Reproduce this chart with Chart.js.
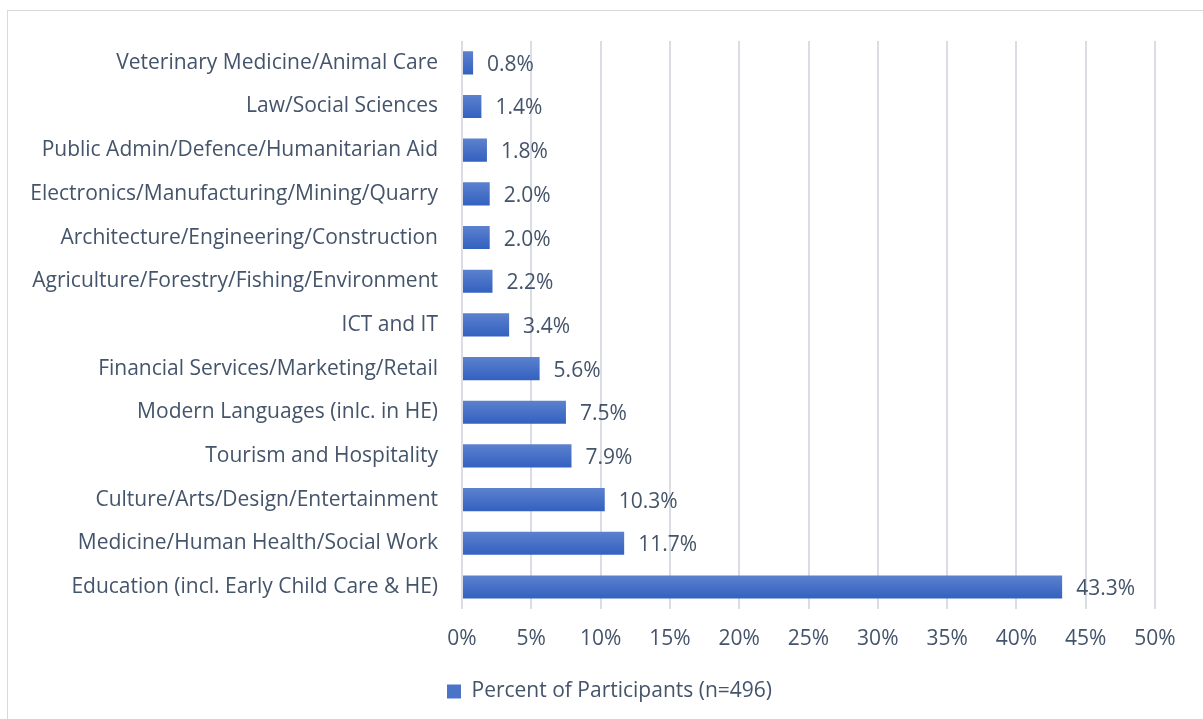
<!DOCTYPE html>
<html>
<head>
<meta charset="utf-8">
<script src="https://cdn.jsdelivr.net/npm/chart.js@4.4.1/dist/chart.umd.min.js"></script>
<style>
  html, body { margin: 0; padding: 0; background: #fff; }
  #frame {
    position: absolute; left: 7px; top: 10px; width: 1200px; height: 712px;
    border: 1px solid #d9d9d9; box-sizing: border-box;
  }
  #wrap { position: absolute; left: 0; top: 0; width: 1203px; height: 719px; }
</style>
</head>
<body>
<div id="frame"></div>
<div id="wrap"><canvas id="chart"></canvas></div>
<script>
const categories = [
  "Veterinary Medicine/Animal Care",
  "Law/Social Sciences",
  "Public Admin/Defence/Humanitarian Aid",
  "Electronics/Manufacturing/Mining/Quarry",
  "Architecture/Engineering/Construction",
  "Agriculture/Forestry/Fishing/Environment",
  "ICT and IT",
  "Financial Services/Marketing/Retail",
  "Modern Languages (inlc. in HE)",
  "Tourism and Hospitality",
  "Culture/Arts/Design/Entertainment",
  "Medicine/Human Health/Social Work",
  "Education (incl. Early Child Care & HE)"
];
const percentValues = [0.8, 1.4, 1.8, 2.0, 2.0, 2.2, 3.4, 5.6, 7.5, 7.9, 10.3, 11.7, 43.3];
const seriesLabel = "Percent of Participants (n=496)";

const textColor = "#44546a";
const fontFamily = "'Open Sans', sans-serif";
const fontSize = 21;
const barShare = 0.53;

// vertical gradient for each bar, worked out from the category scale
const barFill = (ctx) => {
  const chart = ctx.chart;
  const y = chart.scales.y;
  if (!y || ctx.type !== "data") return "#4472c4";
  const band = (y.bottom - y.top) / categories.length;
  const mid = y.getPixelForValue(ctx.dataIndex);
  const half = (band * barShare) / 2;
  const g = chart.ctx.createLinearGradient(0, mid - half, 0, mid + half);
  g.addColorStop(0, "#5c81ce");
  g.addColorStop(1, "#3361c0");
  return g;
};

// value labels to the right of the bars
const valueLabels = {
  id: "valueLabels",
  afterDatasetsDraw(chart) {
    const c = chart.ctx;
    c.save();
    c.font = fontSize + "px " + fontFamily;
    c.fillStyle = textColor;
    c.textAlign = "left";
    c.textBaseline = "middle";
    chart.getDatasetMeta(0).data.forEach((bar, i) => {
      c.fillText(percentValues[i].toFixed(1) + "%", bar.x + 14, bar.y + 2);
    });
    c.restore();
  },
};

// the legend sits a little right of the plot's centre in the original
const legendShift = {
  id: "legendShift",
  afterLayout(chart) {
    if (chart.legend) {
      chart.legend.left += 32;
      chart.legend.right += 32;
    }
  },
};

new Chart(document.getElementById("chart"), {
  type: "bar",
  data: {
    labels: categories,
    datasets: [
      {
        label: seriesLabel,
        data: percentValues,
        backgroundColor: barFill,
        barPercentage: barShare,
        categoryPercentage: 1.0,
      },
    ],
  },
  options: {
    indexAxis: "y",
    responsive: true,
    maintainAspectRatio: false,
    animation: false,
    layout: { padding: { top: 41, right: 48, bottom: 7, left: 0 } },
    plugins: {
      legend: {
        position: "bottom",
        labels: {
          color: textColor,
          font: { family: fontFamily, size: fontSize },
          boxWidth: 14,
          boxHeight: 14,
          padding: 13,
          generateLabels: (chart) => [{
            text: seriesLabel,
            fillStyle: "#4a74c8",
            strokeStyle: "#4a74c8",
            lineWidth: 0,
            fontColor: textColor,
            datasetIndex: 0,
          }],
        },
      },
      tooltip: { enabled: false },
    },
    scales: {
      x: {
        min: 0,
        max: 50,
        ticks: {
          stepSize: 5,
          color: textColor,
          font: { family: fontFamily, size: fontSize },
          padding: 18,
          callback: (v) => v + "%",
        },
        grid: { color: "#dadde3", lineWidth: 2, drawTicks: false },
        border: { display: false },
        afterFit: (scale) => { scale.height -= 2; },
      },
      y: {
        ticks: {
          color: textColor,
          font: { family: fontFamily, size: fontSize },
          padding: 16,
        },
        grid: { display: false },
        border: { display: false },
        afterFit: (scale) => { scale.width = 462; },
      },
    },
  },
  plugins: [valueLabels, legendShift],
});
</script>
</body>
</html>
